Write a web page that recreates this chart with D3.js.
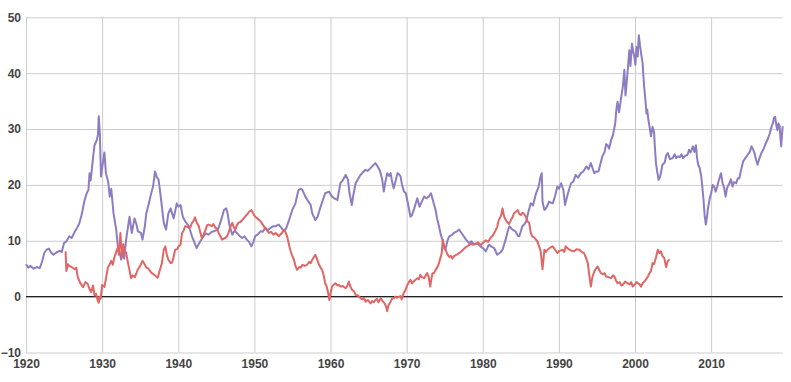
<!DOCTYPE html>
<html>
<head>
<meta charset="utf-8">
<script src="https://cdn.jsdelivr.net/npm/d3@7"></script>
<style>
  html, body { margin: 0; padding: 0; background: #fff; }
  svg { display: block; }
  .tick text { font-family: "Liberation Sans", Arial, sans-serif; font-size: 12px; font-weight: bold; fill: #444; }
</style>
</head>
<body>
<svg id="chart" width="791" height="382"></svg>
<script>
// ---- data ----
const xTicks = [1920, 1930, 1940, 1950, 1960, 1970, 1980, 1990, 2000, 2010];
const yTicks = [-10, 0, 10, 20, 30, 40, 50];

const purpleYears = [
1920.0,1920.3,1920.6,1921.0,1921.4,1921.8,1922.1,1922.4,1922.7,1923.0,1923.3,1923.6,1924.0,1924.4,1924.7,1925.0,1925.3,1925.7,1926.0,1926.4,1926.7,1927.0,1927.3,1927.7,1928.0,1928.2,1928.35,1928.5,1928.8,1929.0,1929.3,1929.45,1929.56,1929.7,1929.85,1930.0,1930.3,1930.5,1930.8,1931.0,1931.2,1931.5,1931.85,1932.06,1932.3,1932.5,1932.7,1932.9,1933.15,1933.4,1933.6,1933.9,1934.25,1934.5,1934.7,1935.1,1935.3,1935.6,1935.8,1936.1,1936.45,1936.7,1936.95,1937.2,1937.4,1937.6,1937.85,1938.1,1938.4,1938.7,1939.0,1939.4,1939.8,1940.0,1940.3,1940.6,1940.9,1941.4,1941.8,1942.1,1942.4,1942.9,1943.3,1943.6,1944.0,1944.4,1944.7,1945.0,1945.3,1945.7,1946.0,1946.3,1946.5,1946.7,1947.1,1947.4,1947.7,1948.1,1948.4,1948.7,1949.0,1949.3,1949.6,1949.9,1950.1,1950.5,1950.8,1951.1,1951.4,1951.8,1952.1,1952.5,1952.8,1953.2,1953.5,1953.9,1954.2,1954.45,1954.7,1955.0,1955.4,1955.6,1955.8,1956.1,1956.3,1956.7,1957.1,1957.4,1957.6,1958.0,1958.3,1958.7,1959.0,1959.3,1959.8,1960.2,1960.5,1960.9,1961.3,1961.6,1962.0,1962.3,1962.5,1962.8,1963.0,1963.3,1963.6,1963.95,1964.3,1964.6,1964.9,1965.25,1965.6,1965.9,1966.2,1966.5,1966.8,1967.0,1967.2,1967.45,1967.7,1967.9,1968.1,1968.3,1968.6,1968.8,1969.0,1969.2,1969.4,1969.65,1969.9,1970.2,1970.5,1970.7,1971.0,1971.4,1971.7,1972.0,1972.3,1972.6,1972.9,1973.2,1973.5,1973.8,1974.0,1974.25,1974.5,1974.7,1974.95,1975.1,1975.35,1975.6,1975.9,1976.2,1976.6,1976.9,1977.2,1977.5,1977.8,1978.2,1978.5,1978.9,1979.3,1979.7,1980.1,1980.4,1980.8,1981.1,1981.5,1981.9,1982.3,1982.6,1983.0,1983.3,1983.5,1983.9,1984.3,1984.6,1984.8,1985.2,1985.5,1985.7,1986.0,1986.3,1986.6,1987.0,1987.3,1987.6,1987.75,1987.85,1988.1,1988.4,1988.7,1989.0,1989.2,1989.5,1989.8,1990.0,1990.3,1990.6,1990.8,1991.1,1991.3,1991.6,1991.9,1992.2,1992.5,1992.9,1993.2,1993.6,1993.9,1994.2,1994.45,1994.65,1994.9,1995.2,1995.5,1995.7,1996.0,1996.2,1996.4,1996.6,1996.85,1997.1,1997.4,1997.55,1997.7,1997.9,1998.2,1998.4,1998.6,1998.75,1998.9,1999.1,1999.25,1999.4,1999.6,1999.75,1999.9,2000.05,2000.2,2000.35,2000.5,2000.65,2000.8,2001.0,2001.1,2001.2,2001.35,2001.5,2001.6,2001.75,2001.9,2002.1,2002.3,2002.5,2002.6,2002.75,2002.9,2003.1,2003.3,2003.45,2003.6,2003.9,2004.1,2004.3,2004.6,2004.95,2005.2,2005.4,2005.6,2005.9,2006.1,2006.3,2006.6,2006.9,2007.1,2007.3,2007.6,2007.8,2008.0,2008.15,2008.3,2008.5,2008.7,2008.85,2009.0,2009.15,2009.3,2009.45,2009.55,2009.8,2010.0,2010.2,2010.4,2010.6,2010.8,2011.0,2011.3,2011.5,2011.7,2011.9,2012.1,2012.4,2012.6,2012.8,2013.0,2013.3,2013.5,2013.7,2013.9,2014.2,2014.5,2014.8,2015.1,2015.3,2015.5,2015.7,2015.9,2016.1,2016.35,2016.6,2016.9,2017.2,2017.45,2017.7,2017.95,2018.1,2018.25,2018.4,2018.55,2018.7,2018.85,2019.0,2019.1,2019.2,2019.3,2019.4
];
const purpleValues = [
5.8,5.2,5.5,5.0,5.3,5.1,6.2,7.8,8.4,8.6,7.9,7.5,7.9,8.2,8.0,9.6,9.9,10.8,10.5,11.6,12.3,13.1,14.6,17.3,18.6,19.1,22.1,20.8,24.8,27.1,28.0,29.0,32.3,29.2,21.5,23.0,25.8,22.1,20.5,17.9,19.3,14.9,12.0,9.0,8.0,6.6,9.0,6.8,10.2,12.5,14.3,11.4,14.0,13.0,11.7,11.4,10.2,12.5,14.9,16.5,18.5,19.8,22.4,21.3,21.0,19.0,16.1,13.2,12.0,14.9,15.8,14.0,16.7,16.1,16.4,14.3,13.5,12.6,10.8,9.8,8.7,9.9,10.8,11.3,11.1,11.6,11.7,11.9,12.3,14.0,15.5,15.8,14.8,12.9,11.1,11.8,11.4,10.8,10.5,10.8,10.2,9.8,9.0,9.9,10.8,11.2,11.7,11.6,12.3,11.9,12.3,12.6,12.6,12.9,12.4,11.7,12.3,13.3,14.3,15.6,16.7,18.0,19.1,19.3,19.1,17.9,17.0,16.4,14.9,13.7,14.3,16.1,17.3,18.5,18.8,17.9,17.6,17.3,20.3,20.8,21.8,20.9,18.5,16.4,18.2,20.3,21.0,21.8,22.3,22.7,22.5,23.0,23.5,23.9,23.3,22.5,20.9,18.8,20.5,22.1,21.6,22.1,20.5,19.4,21.0,22.1,21.9,21.5,20.0,18.8,18.5,16.5,14.3,14.6,15.8,17.6,16.1,17.0,17.9,17.6,17.9,18.5,17.0,15.5,14.0,12.6,11.0,10.2,8.6,8.4,10.0,10.8,11.0,11.4,11.7,12.0,11.4,10.8,10.2,9.6,9.9,9.3,9.5,9.0,8.6,8.1,9.3,9.0,8.7,7.5,7.9,8.4,10.2,11.8,12.6,12.0,11.7,10.9,10.8,12.6,13.0,13.5,15.2,16.7,16.3,18.5,19.5,21.5,22.1,17.0,15.5,16.0,17.0,16.8,16.7,18.0,19.7,19.3,20.3,19.0,16.4,18.0,19.0,20.3,20.6,21.8,21.3,22.1,22.4,23.3,22.8,23.9,22.9,22.1,22.4,22.4,24.0,25.1,25.9,27.3,27.1,26.5,28.0,28.9,31.0,33.5,34.9,33.0,35.8,37.6,40.6,36.0,38.2,41.5,44.1,41.3,45.3,44.0,43.0,41.5,44.7,43.0,46.8,45.0,43.5,41.8,39.5,37.6,35.5,32.8,33.5,31.7,30.5,28.7,30.4,29.5,27.0,23.9,22.5,20.9,21.5,22.5,23.6,24.0,25.3,25.7,24.6,24.8,25.5,24.8,25.1,25.0,25.5,24.8,25.2,25.4,26.3,25.8,26.9,25.9,27.1,24.8,23.6,23.0,21.5,19.5,17.3,14.5,12.9,14.2,15.5,17.5,18.5,20.0,19.7,18.8,19.7,20.8,22.1,20.3,19.5,17.9,19.5,20.3,21.0,19.7,20.5,20.3,21.2,21.2,22.5,24.2,24.8,25.4,26.0,26.9,26.4,25.7,24.5,23.6,24.8,25.7,26.5,27.5,28.3,29.2,30.5,31.0,32.0,32.2,30.8,29.8,31.0,30.5,28.5,26.9,28.8,30.5
];

const redYears = [
1925.2,1925.3,1925.5,1925.7,1926.0,1926.4,1926.6,1926.8,1927.1,1927.5,1927.8,1928.1,1928.3,1928.55,1928.8,1929.0,1929.2,1929.4,1929.55,1929.65,1929.8,1930.0,1930.3,1930.5,1930.75,1931.0,1931.2,1931.4,1931.6,1931.85,1932.06,1932.2,1932.4,1932.5,1932.6,1932.8,1933.0,1933.15,1933.4,1933.6,1933.8,1934.0,1934.3,1934.7,1935.0,1935.3,1935.5,1935.8,1936.1,1936.45,1936.75,1937.1,1937.3,1937.6,1937.85,1938.1,1938.3,1938.5,1938.7,1939.0,1939.2,1939.4,1939.6,1939.85,1940.05,1940.3,1940.5,1940.7,1940.9,1941.2,1941.4,1941.6,1941.8,1942.0,1942.2,1942.45,1942.7,1942.9,1943.1,1943.3,1943.6,1943.8,1944.0,1944.4,1944.6,1944.9,1945.1,1945.3,1945.5,1945.75,1946.0,1946.2,1946.4,1946.6,1946.85,1947.1,1947.3,1947.5,1947.7,1947.9,1948.2,1948.6,1948.9,1949.1,1949.3,1949.6,1949.85,1950.1,1950.4,1950.8,1951.1,1951.4,1951.6,1951.9,1952.2,1952.5,1952.8,1953.2,1953.5,1953.9,1954.1,1954.3,1954.5,1954.7,1954.95,1955.2,1955.4,1955.6,1955.9,1956.1,1956.3,1956.6,1956.9,1957.2,1957.4,1957.6,1958.0,1958.2,1958.5,1958.7,1958.9,1959.1,1959.3,1959.5,1959.7,1959.85,1960.0,1960.2,1960.4,1960.65,1960.9,1961.1,1961.3,1961.6,1962.0,1962.2,1962.4,1962.6,1962.85,1963.1,1963.3,1963.6,1963.95,1964.2,1964.4,1964.6,1964.9,1965.25,1965.5,1965.7,1965.9,1966.1,1966.3,1966.6,1966.85,1967.1,1967.3,1967.45,1967.6,1967.9,1968.1,1968.3,1968.5,1968.7,1969.0,1969.2,1969.35,1969.6,1969.85,1970.1,1970.3,1970.5,1970.7,1971.0,1971.4,1971.6,1971.8,1972.0,1972.3,1972.5,1972.7,1972.9,1973.1,1973.25,1973.4,1973.6,1973.8,1974.0,1974.25,1974.45,1974.6,1974.75,1974.9,1975.1,1975.35,1975.6,1975.8,1976.0,1976.2,1976.4,1976.7,1977.1,1977.4,1977.8,1978.1,1978.4,1978.7,1979.1,1979.4,1979.7,1980.0,1980.4,1980.7,1981.0,1981.3,1981.7,1981.9,1982.1,1982.4,1982.6,1982.75,1982.9,1983.2,1983.45,1983.7,1983.9,1984.1,1984.35,1984.6,1984.8,1985.0,1985.2,1985.4,1985.66,1985.9,1986.1,1986.3,1986.5,1986.75,1987.0,1987.2,1987.4,1987.6,1987.85,1988.0,1988.1,1988.3,1988.5,1988.8,1989.0,1989.2,1989.5,1989.8,1990.1,1990.5,1990.7,1990.9,1991.1,1991.4,1991.7,1992.0,1992.3,1992.7,1993.0,1993.3,1993.55,1993.8,1994.0,1994.2,1994.4,1994.65,1994.85,1995.1,1995.3,1995.5,1995.8,1996.0,1996.2,1996.5,1996.85,1997.1,1997.3,1997.5,1997.7,1998.0,1998.2,1998.4,1998.7,1999.0,1999.3,1999.5,1999.7,2000.0,2000.2,2000.4,2000.6,2000.8,2001.0,2001.2,2001.4,2001.7,2001.9,2002.1,2002.3,2002.5,2002.75,2003.0,2003.2,2003.4,2003.6,2003.85,2004.0,2004.1,2004.25,2004.5
];
const redValues = [
8.1,4.6,5.8,5.5,5.3,4.9,5.2,3.5,2.5,1.7,2.6,2.3,1.5,0.8,2.0,0.2,0.5,-0.6,-1.1,0.0,-0.4,2.1,1.7,3.2,5.2,5.8,6.4,5.7,7.0,8.0,8.8,7.5,11.4,9.5,7.0,9.4,8.0,7.9,6.0,4.7,3.3,3.8,3.5,4.9,5.5,6.4,6.0,5.2,5.0,4.3,4.0,3.6,3.4,4.8,6.0,8.4,9.0,7.5,6.6,6.0,6.1,7.2,8.4,8.5,9.0,9.3,11.4,11.8,12.6,12.5,12.3,12.5,13.2,13.5,14.2,13.2,12.6,11.5,10.5,11.0,12.0,12.8,12.9,12.6,13.0,12.3,12.2,11.4,10.9,10.2,10.4,10.5,10.8,11.4,12.5,13.2,12.4,12.0,12.8,13.2,13.4,14.0,14.5,14.8,15.2,15.5,14.9,14.3,14.0,13.5,12.9,12.3,12.0,11.4,11.6,11.1,11.4,10.8,11.2,12.0,11.5,10.8,9.6,8.4,7.4,6.6,5.5,4.8,5.3,5.2,5.7,5.5,5.7,6.2,6.0,6.6,7.5,6.8,5.7,5.2,4.8,3.8,2.4,1.8,0.6,-0.6,0.5,1.8,2.1,2.4,2.0,2.1,1.8,1.9,1.5,1.9,2.7,1.8,1.2,0.9,0.3,0.2,-0.3,-0.5,-0.2,-0.9,-0.6,-1.2,-0.8,-1.0,-0.6,-0.4,-1.0,-0.3,-0.8,-1.2,-1.8,-2.6,-1.6,-0.9,-0.3,-0.3,0.0,-0.2,0.0,0.1,-0.5,0.6,1.2,2.1,2.6,3.0,2.4,2.8,3.3,3.1,3.9,3.5,3.3,3.8,4.2,3.5,1.8,3.2,4.2,4.2,4.8,5.2,6.0,7.0,7.7,10.2,9.2,8.4,7.6,7.1,7.3,6.8,7.2,7.4,7.6,8.0,8.4,8.9,9.1,9.5,9.3,9.5,9.7,9.2,9.6,10.1,9.8,10.5,10.9,11.9,12.5,13.7,14.5,15.8,14.7,14.0,13.4,13.0,13.7,14.2,14.9,15.2,15.5,14.8,14.6,15.0,14.9,14.3,13.4,13.2,11.5,10.8,10.6,10.2,9.8,9.0,8.2,4.9,7.0,8.4,8.0,8.4,8.7,8.9,9.0,8.4,7.8,8.2,8.4,8.0,9.0,8.7,8.4,8.2,8.1,8.5,8.4,8.0,7.8,7.0,6.0,3.8,1.8,3.5,4.5,5.0,5.4,4.8,4.2,4.0,4.2,3.6,3.5,3.3,3.8,3.6,2.9,2.4,2.6,2.0,2.1,2.7,2.4,2.2,2.6,1.8,2.2,2.6,2.4,2.2,1.8,2.4,2.7,3.0,3.6,4.2,4.6,6.0,5.8,7.0,8.4,7.8,8.1,7.3,6.9,5.8,5.3,6.2,6.7
];

// ---- chart ----
const svg = d3.select("#chart");
const plotLeft = 26, plotRight = 782.7, plotTop = 17.3, plotBottom = 352.5;

const x = d3.scaleLinear().domain([1920, 2019.4]).range([plotLeft, plotRight]);
const y = d3.scaleLinear().domain([-10, 50]).range([plotBottom, plotTop]);

// horizontal grid + y labels
const yAxis = svg.append("g").attr("transform", `translate(${plotLeft},0)`)
  .call(d3.axisLeft(y).tickValues(yTicks).tickSize(-(plotRight - plotLeft)).tickPadding(5).tickFormat(d3.format("d")));
yAxis.select(".domain").remove();
yAxis.selectAll(".tick line").attr("stroke", "#cccccc").attr("stroke-width", 1);

// vertical grid + x labels
const xAxis = svg.append("g").attr("transform", `translate(0,${plotBottom})`)
  .call(d3.axisBottom(x).tickValues(xTicks).tickSize(-(plotBottom - plotTop)).tickPadding(7).tickFormat(d3.format("d")));
xAxis.select(".domain").remove();
xAxis.selectAll(".tick line").attr("stroke", "#cccccc").attr("stroke-width", 1);

// zero baseline
svg.append("line")
  .attr("x1", plotLeft).attr("x2", plotRight)
  .attr("y1", y(0)).attr("y2", y(0))
  .attr("stroke", "#222").attr("stroke-width", 1.2);

const line = d3.line().x(d => x(d[0])).y(d => y(d[1]));
const n1 = Math.min(purpleYears.length, purpleValues.length);
const n2 = Math.min(redYears.length, redValues.length);

svg.append("path")
  .datum(d3.range(n1).map(i => [purpleYears[i], purpleValues[i]]))
  .attr("fill", "none").attr("stroke", "#8e7cc3").attr("stroke-width", 2)
  .attr("stroke-linejoin", "round").attr("d", line);

svg.append("path")
  .datum(d3.range(n2).map(i => [redYears[i], redValues[i]]))
  .attr("fill", "none").attr("stroke", "#e06666").attr("stroke-width", 2)
  .attr("stroke-linejoin", "round").attr("d", line);
</script>
</body>
</html>
